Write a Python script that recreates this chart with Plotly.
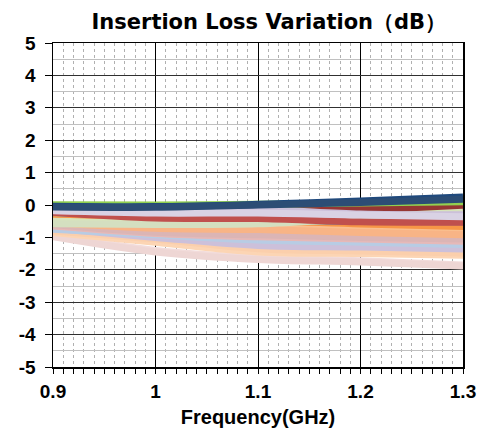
import plotly.graph_objects as go

freq = [0.9, 1.0, 1.1, 1.2, 1.3]

x_tickvals = [0.9, 1.0, 1.1, 1.2, 1.3]
x_ticktext = ["0.9", "1", "1.1", "1.2", "1.3"]
y_tickvals = [5, 4, 3, 2, 1, 0, -1, -2, -3, -4, -5]
y_ticktext = ["5", "4", "3", "2", "1", "0", "-1", "-2", "-3", "-4", "-5"]

# series values (dB) at 0.9, 1.0, 1.1, 1.2, 1.3 GHz
aqua1 = [-0.32, -0.40, -0.50, -0.60, -0.65]
blue1 = [-0.20, -0.45, -0.57, -0.62, -0.62]
purple1 = [-0.50, -0.62, -0.72, -0.76, -0.78]
orange1 = [-0.45, -0.58, -0.68, -0.72, -0.73]
darkred1 = [-0.15, -0.20, -0.12, -0.10, -0.05]
darkred2 = [-0.20, -0.22, -0.18, -0.17, -0.16]
pink1 = [-0.95, -1.40, -1.62, -1.72, -1.85]
pink2 = [-0.98, -1.45, -1.68, -1.76, -1.88]
peach1 = [-0.85, -1.15, -1.45, -1.50, -1.55]
peach2 = [-0.80, -1.05, -1.35, -1.42, -1.48]
lav1 = [-0.70, -0.95, -1.20, -1.25, -1.30]
lav2 = [-0.72, -1.00, -1.25, -1.30, -1.36]
ltblue1 = [-0.75, -0.92, -1.08, -1.15, -1.22]
pinkish1 = [-0.65, -0.88, -0.98, -1.05, -1.12]
pinkish2 = [-0.60, -0.84, -0.92, -1.00, -1.05]
salmon1 = [-0.50, -0.68, -0.70, -0.80, -0.88]
salmon2 = [-0.55, -0.72, -0.76, -0.85, -0.92]
ltgreen1 = [-0.50, -0.55, -0.54, -0.38, -0.22]
ltgreen2 = [-0.58, -0.60, -0.58, -0.42, -0.28]
red1 = [-0.22, -0.40, -0.42, -0.52, -0.53]
lavup1 = [-0.12, -0.18, -0.15, -0.28, -0.30]
lavup2 = [-0.18, -0.25, -0.25, -0.31, -0.36]
green1 = [0.01, 0.00, 0.02, 0.06, 0.10]
navy1 = [-0.04, -0.05, 0.02, 0.12, 0.25]
navy2 = [-0.06, -0.07, 0.00, 0.08, 0.18]

series = [aqua1, blue1, purple1, orange1, darkred1, darkred2,
          pink1, pink2, peach1, peach2, lav1, lav2, ltblue1,
          pinkish1, pinkish2, salmon1, salmon2, ltgreen1, ltgreen2, red1,
          lavup1, lavup2, green1, navy1, navy2]
colors = ["#4BACC6", "#4F81BD", "#8064A2", "#F79646", "#953735", "#963634",
          "#F2DCDB", "#EED6D4", "#FCD5B4", "#FBCFAC", "#C4BDD9", "#CCC0DA", "#B8CCE4",
          "#E6B9B8", "#DBB5B5", "#FABF8F", "#F8B486", "#D8E4BC", "#D4DFC0", "#C0504D",
          "#CCC0DA", "#D9D2E4", "#92D050", "#1F497D", "#2C4D75"]

fig = go.Figure()
for vals, col in zip(series, colors):
    fig.add_trace(go.Scatter(x=freq, y=vals, mode="lines",
                             line=dict(color=col, width=7, shape="spline"),
                             showlegend=False, hoverinfo="skip"))

tickfont = dict(family="Liberation Sans, Arial, sans-serif", size=19, color="black")

fig.update_layout(
    width=480, height=437,
    margin=dict(l=53, r=17, t=43, b=70),
    paper_bgcolor="white", plot_bgcolor="white",
    title=dict(text="<b>Insertion Loss Variation（dB）</b>", x=0.56, xanchor="center",
               y=1 - 22 / 437, yanchor="middle", yref="container",
               font=dict(family="DejaVu Sans, Verdana, sans-serif", size=21,
                         color="black")),
)
fig.update_xaxes(
    range=[0.9, 1.3], tickmode="array", tickvals=x_tickvals,
    ticktext=["<b>%s</b>" % t for t in x_ticktext], automargin=False,
    showgrid=True, gridcolor="black", gridwidth=1,
    showline=True, linecolor="black", linewidth=1.5, mirror=True,
    ticks="outside", ticklen=5, tickcolor="black", ticklabelstandoff=2,
    tickfont=tickfont, zeroline=False,
    minor=dict(dtick=0.01, tick0=0.9, showgrid=True, gridcolor="#b0b0b0", griddash="dot",
               gridwidth=1, ticks="outside", ticklen=5, tickcolor="black"),
    title=dict(text="<b>Frequency(GHz)</b>",
               font=dict(family="Liberation Sans, Arial, sans-serif", size=20, color="black"),
               standoff=8),
)
fig.update_yaxes(
    range=[-5, 5], tickmode="array", tickvals=y_tickvals,
    ticktext=["<b>%s</b>" % t for t in y_ticktext], automargin=False,
    showgrid=True, gridcolor="#303030", gridwidth=1,
    showline=True, linecolor="black", linewidth=1.5, mirror=True,
    ticks="outside", ticklen=7, tickcolor="black", ticklabelstandoff=5,
    tickfont=tickfont, zeroline=False,
    minor=dict(dtick=0.5, tick0=0, showgrid=True, gridcolor="#c0c0c0", gridwidth=1),
)

fig.write_html("out.html", config={"displayModeBar": False, "staticPlot": True},
               post_script="document.body.style.margin='0px';document.body.style.overflow='hidden';")
